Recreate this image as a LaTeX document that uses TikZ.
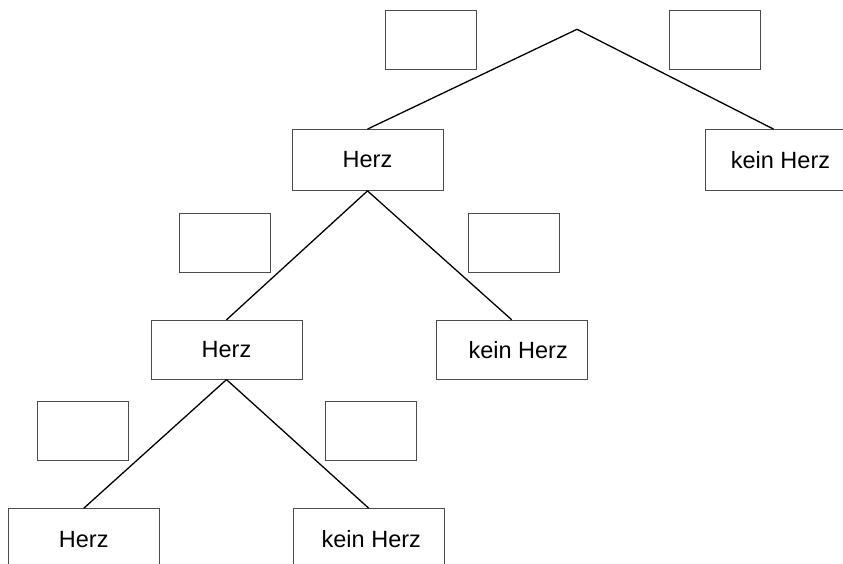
\documentclass[tikz,border=0pt]{standalone}
\usepackage{fontspec}
\setmainfont{Liberation Sans}
\begin{document}
\begin{tikzpicture}[x=1pt,y=-1pt,
  labbox/.style={draw=black!70, line width=0.8pt, minimum width=151pt, minimum height=61pt, inner sep=0pt,
    font=\fontsize{23.5}{28}\selectfont},
  emptybox/.style={draw=black!70, line width=0.8pt, minimum width=91pt, minimum height=59pt, inner sep=0pt},
  branch/.style={draw=black, line width=1.3pt}]
\useasboundingbox (0,0) rectangle (843,564);
\coordinate (root) at (577,29.3);
% level 1
\node[labbox] (H1) at (367.5,160) {Herz};
\node[labbox] (K1) at (780.5,160) {kein Herz};
\node[emptybox] (E1) at (430.5,39.8) {};
\node[emptybox] (E2) at (714.7,39.8) {};
% level 2
\node[labbox, minimum height=59pt] (H2) at (226.5,349.7) {Herz};
\node[labbox, minimum height=59pt] (K2) at (511.7,349.7) {\hspace*{13pt}kein Herz};
\node[emptybox] (E3) at (225,242.5) {};
\node[emptybox] (E4) at (513.8,242.5) {};
% level 3
\node[labbox] (H3) at (83.7,539.2) {Herz};
\node[labbox] (K3) at (368.8,539.2) {\hspace*{5pt}kein Herz};
\node[emptybox] (E5) at (82.5,431.2) {};
\node[emptybox] (E6) at (371,431.2) {};
% branches
\draw[branch] (root) -- (H1.north);
\draw[branch] (root) -- ([xshift=-7pt]K1.north);
\draw[branch] (H1.south) -- (H2.north);
\draw[branch] (H1.south) -- (K2.north);
\draw[branch] (H2.south) -- (H3.north);
\draw[branch] (H2.south) -- (K3.north);
\end{tikzpicture}
\end{document}
